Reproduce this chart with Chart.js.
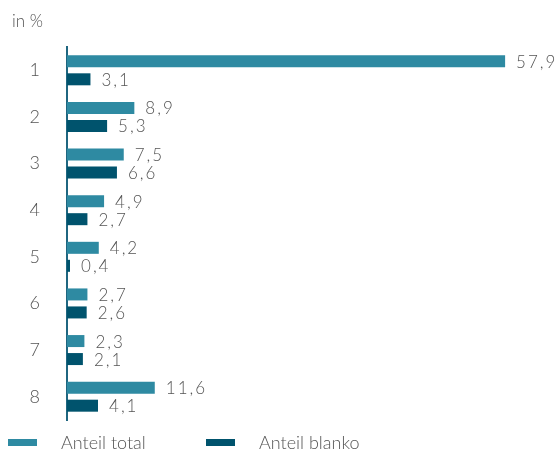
<!DOCTYPE html>
<html>
<head>
<meta charset="utf-8">
<script src="https://cdn.jsdelivr.net/npm/chart.js@4"></script>
<style>
  html, body { margin: 0; padding: 0; background: #fff; }
  #wrap { width: 556px; height: 450px; position: relative; }
</style>
</head>
<body>
<div id="wrap"><canvas id="chart"></canvas></div>
<script>
const categories = ["1", "2", "3", "4", "5", "6", "7", "8"];
const anteilTotal = [57.9, 8.9, 7.5, 4.9, 4.2, 2.7, 2.3, 11.6];
const anteilBlanko = [3.1, 5.3, 6.6, 2.7, 0.4, 2.6, 2.1, 4.1];
const seriesNames = ["Anteil total", "Anteil blanko"];
const unitLabel = "in %";

const colorTotal = "#2e8aa2";
const colorBlanko = "#00536d";
const textColor = "#555555";
const fontFamily = "Lato, 'Open Sans', 'DejaVu Sans', sans-serif";

function formatValue(v) {
  return v.toFixed(1).replace(".", ",");
}

const valueLabels = {
  id: "valueLabels",
  afterDatasetsDraw(chart) {
    const ctx = chart.ctx;
    ctx.save();
    ctx.font = "300 17px " + fontFamily;
    ctx.fillStyle = textColor;
    ctx.textBaseline = "middle";
    ctx.textAlign = "left";
    ctx.letterSpacing = "2px";
    chart.data.datasets.forEach((ds, i) => {
      chart.getDatasetMeta(i).data.forEach((bar, j) => {
        ctx.fillText(formatValue(ds.data[j]), bar.x + 11, bar.y + 1);
      });
    });
    ctx.restore();
  }
};

const extras = {
  id: "extras",
  afterDraw(chart) {
    const ctx = chart.ctx;
    ctx.save();
    ctx.fillStyle = textColor;
    ctx.textBaseline = "middle";
    ctx.font = "300 17px " + fontFamily;
    ctx.fillText(unitLabel, 12, 22);

    // legend
    ctx.font = "300 18px " + fontFamily;
    const legendX = [8, 206];
    chart.data.datasets.forEach((ds, i) => {
      ctx.fillStyle = ds.backgroundColor;
      ctx.fillRect(legendX[i], 439, 29, 7);
      ctx.fillStyle = textColor;
      ctx.fillText(ds.label, legendX[i] + 53, 443);
    });
    ctx.restore();
  }
};

new Chart(document.getElementById("chart"), {
  type: "bar",
  data: {
    labels: categories,
    datasets: [
      { label: seriesNames[0], data: anteilTotal, backgroundColor: colorTotal },
      { label: seriesNames[1], data: anteilBlanko, backgroundColor: colorBlanko }
    ]
  },
  options: {
    indexAxis: "y",
    responsive: true,
    maintainAspectRatio: false,
    animation: false,
    categoryPercentage: 0.772,
    barPercentage: 0.667,
    layout: { padding: { top: 47, bottom: 30, right: 35, left: 0 } },
    plugins: {
      legend: { display: false },
      tooltip: { enabled: false }
    },
    scales: {
      x: {
        display: false,
        min: 0,
        max: 60
      },
      y: {
        grid: { display: false, drawTicks: false },
        border: { display: true, color: "#1f6680", width: 2 },
        ticks: {
          color: textColor,
          font: { family: fontFamily, size: 18, weight: 300 },
          crossAlign: "center",
          padding: 27
        },
        afterFit(scale) {
          scale.width = 67;
          scale.paddingTop = 0;
          scale.paddingBottom = 0;
        }
      }
    }
  },
  plugins: [valueLabels, extras]
});
</script>
</body>
</html>
